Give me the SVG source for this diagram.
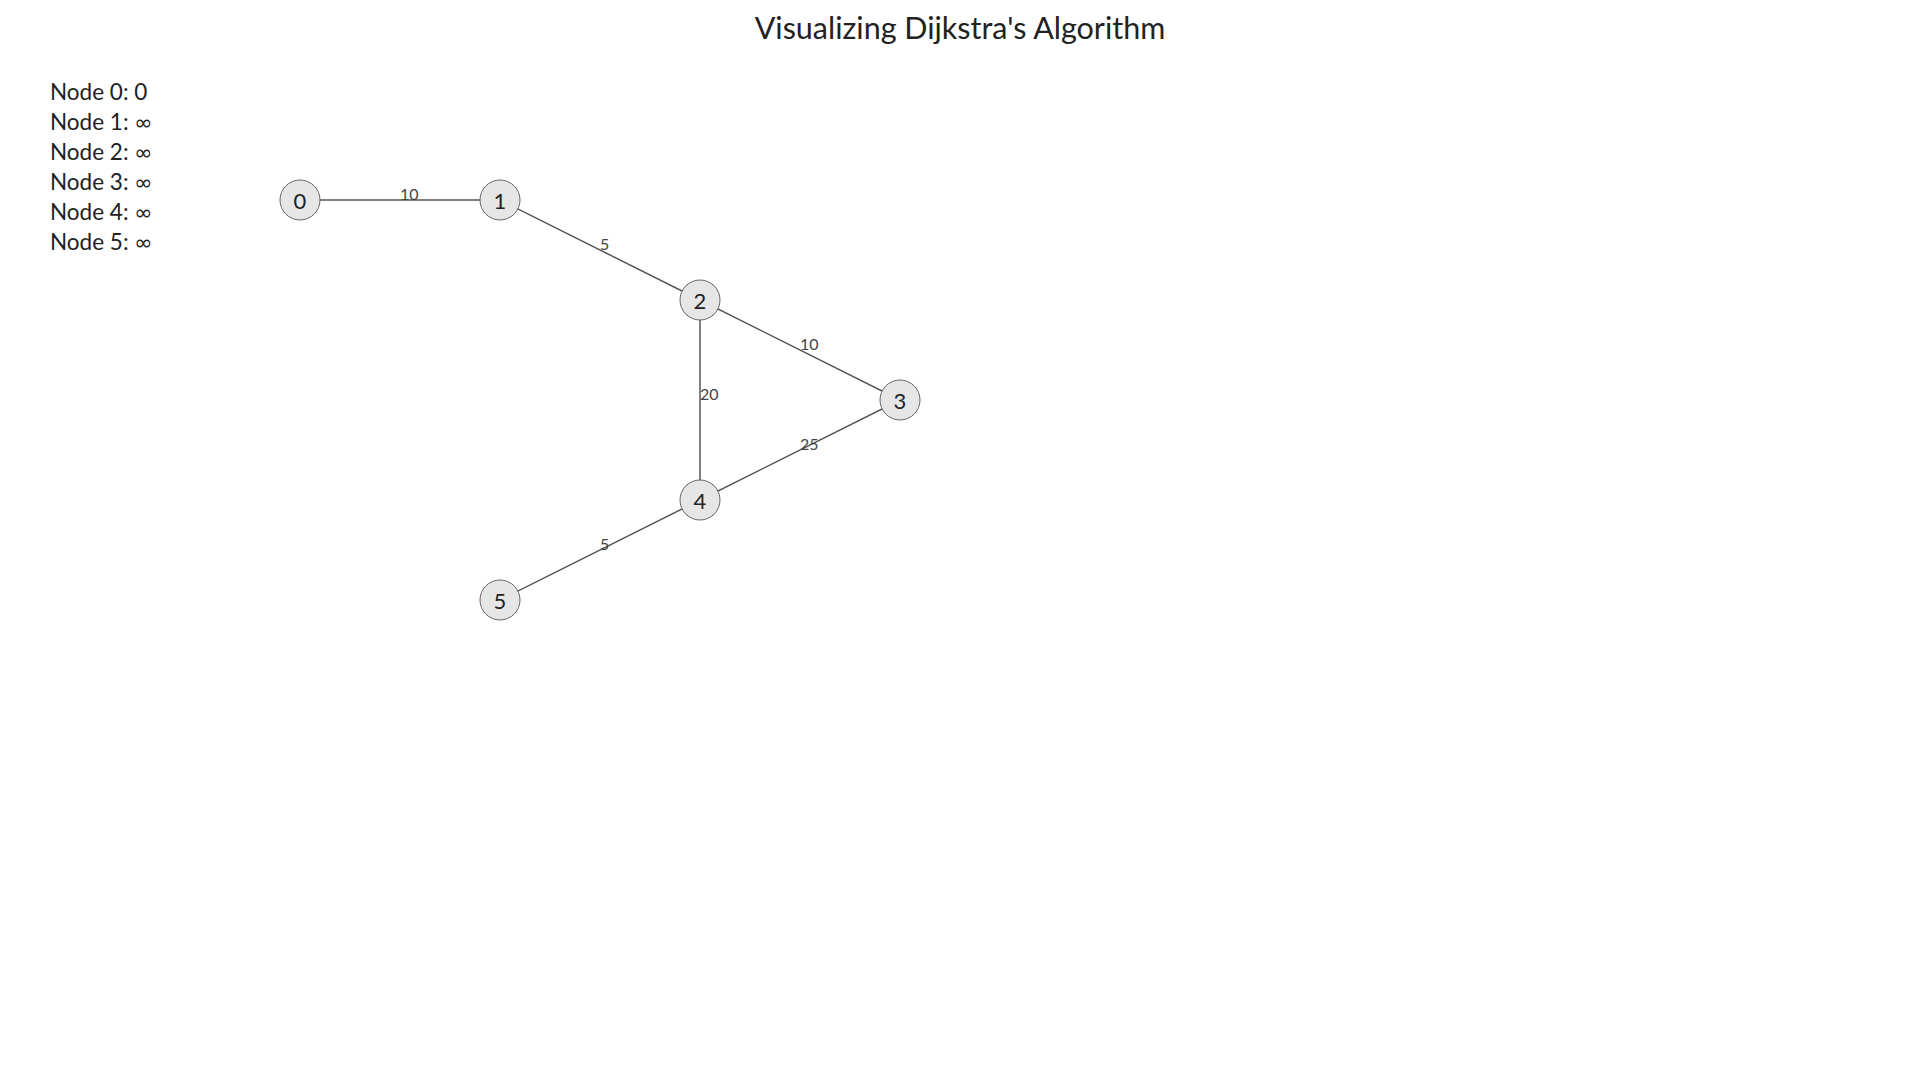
<svg xmlns="http://www.w3.org/2000/svg" width="1920" height="1080" viewBox="0 0 1920 1080">
<style>
text{font-family:Lato,"Liberation Sans",sans-serif;fill:#222}
.title{font-size:30.5px;text-anchor:middle}
.dist{font-size:22.5px}
.inf{font-family:"DejaVu Sans",sans-serif;font-size:22px}
.edge line{stroke:#555;stroke-width:1.5}
.elabel{font-size:16px;fill:#444}
.node circle{fill:#e6e6e6;stroke:#666;stroke-width:1}
.node text{font-size:22px;text-anchor:middle;dominant-baseline:central}
</style>
<rect width="1920" height="1080" fill="#fff"/>
<text class="title" x="960" y="39">Visualizing Dijkstra's Algorithm</text>
<g id="distances">
<text class="dist" x="50" y="100">Node 0: 0</text>
<text class="dist" x="50" y="130">Node 1: <tspan class="inf">∞</tspan></text>
<text class="dist" x="50" y="160">Node 2: <tspan class="inf">∞</tspan></text>
<text class="dist" x="50" y="190">Node 3: <tspan class="inf">∞</tspan></text>
<text class="dist" x="50" y="220">Node 4: <tspan class="inf">∞</tspan></text>
<text class="dist" x="50" y="250">Node 5: <tspan class="inf">∞</tspan></text>
</g>
<g id="connectors" class="edge">
<line x1="300" y1="200" x2="500" y2="200"/>
<line x1="500" y1="200" x2="700" y2="300"/>
<line x1="700" y1="300" x2="900" y2="400"/>
<line x1="700" y1="300" x2="700" y2="500"/>
<line x1="900" y1="400" x2="700" y2="500"/>
<line x1="700" y1="500" x2="500" y2="600"/>
<text class="elabel" x="400" y="200">10</text>
<text class="elabel" x="600" y="250">5</text>
<text class="elabel" x="800" y="350">10</text>
<text class="elabel" x="700" y="400">20</text>
<text class="elabel" x="800" y="450">25</text>
<text class="elabel" x="600" y="550">5</text>
</g>
<g id="node0" class="node"><circle cx="300" cy="200" r="20"/><text x="300" y="200">0</text></g>
<g id="node1" class="node"><circle cx="500" cy="200" r="20"/><text x="500" y="200">1</text></g>
<g id="node2" class="node"><circle cx="700" cy="300" r="20"/><text x="700" y="300">2</text></g>
<g id="node3" class="node"><circle cx="900" cy="400" r="20"/><text x="900" y="400">3</text></g>
<g id="node4" class="node"><circle cx="700" cy="500" r="20"/><text x="700" y="500">4</text></g>
<g id="node5" class="node"><circle cx="500" cy="600" r="20"/><text x="500" y="600">5</text></g>
</svg>
